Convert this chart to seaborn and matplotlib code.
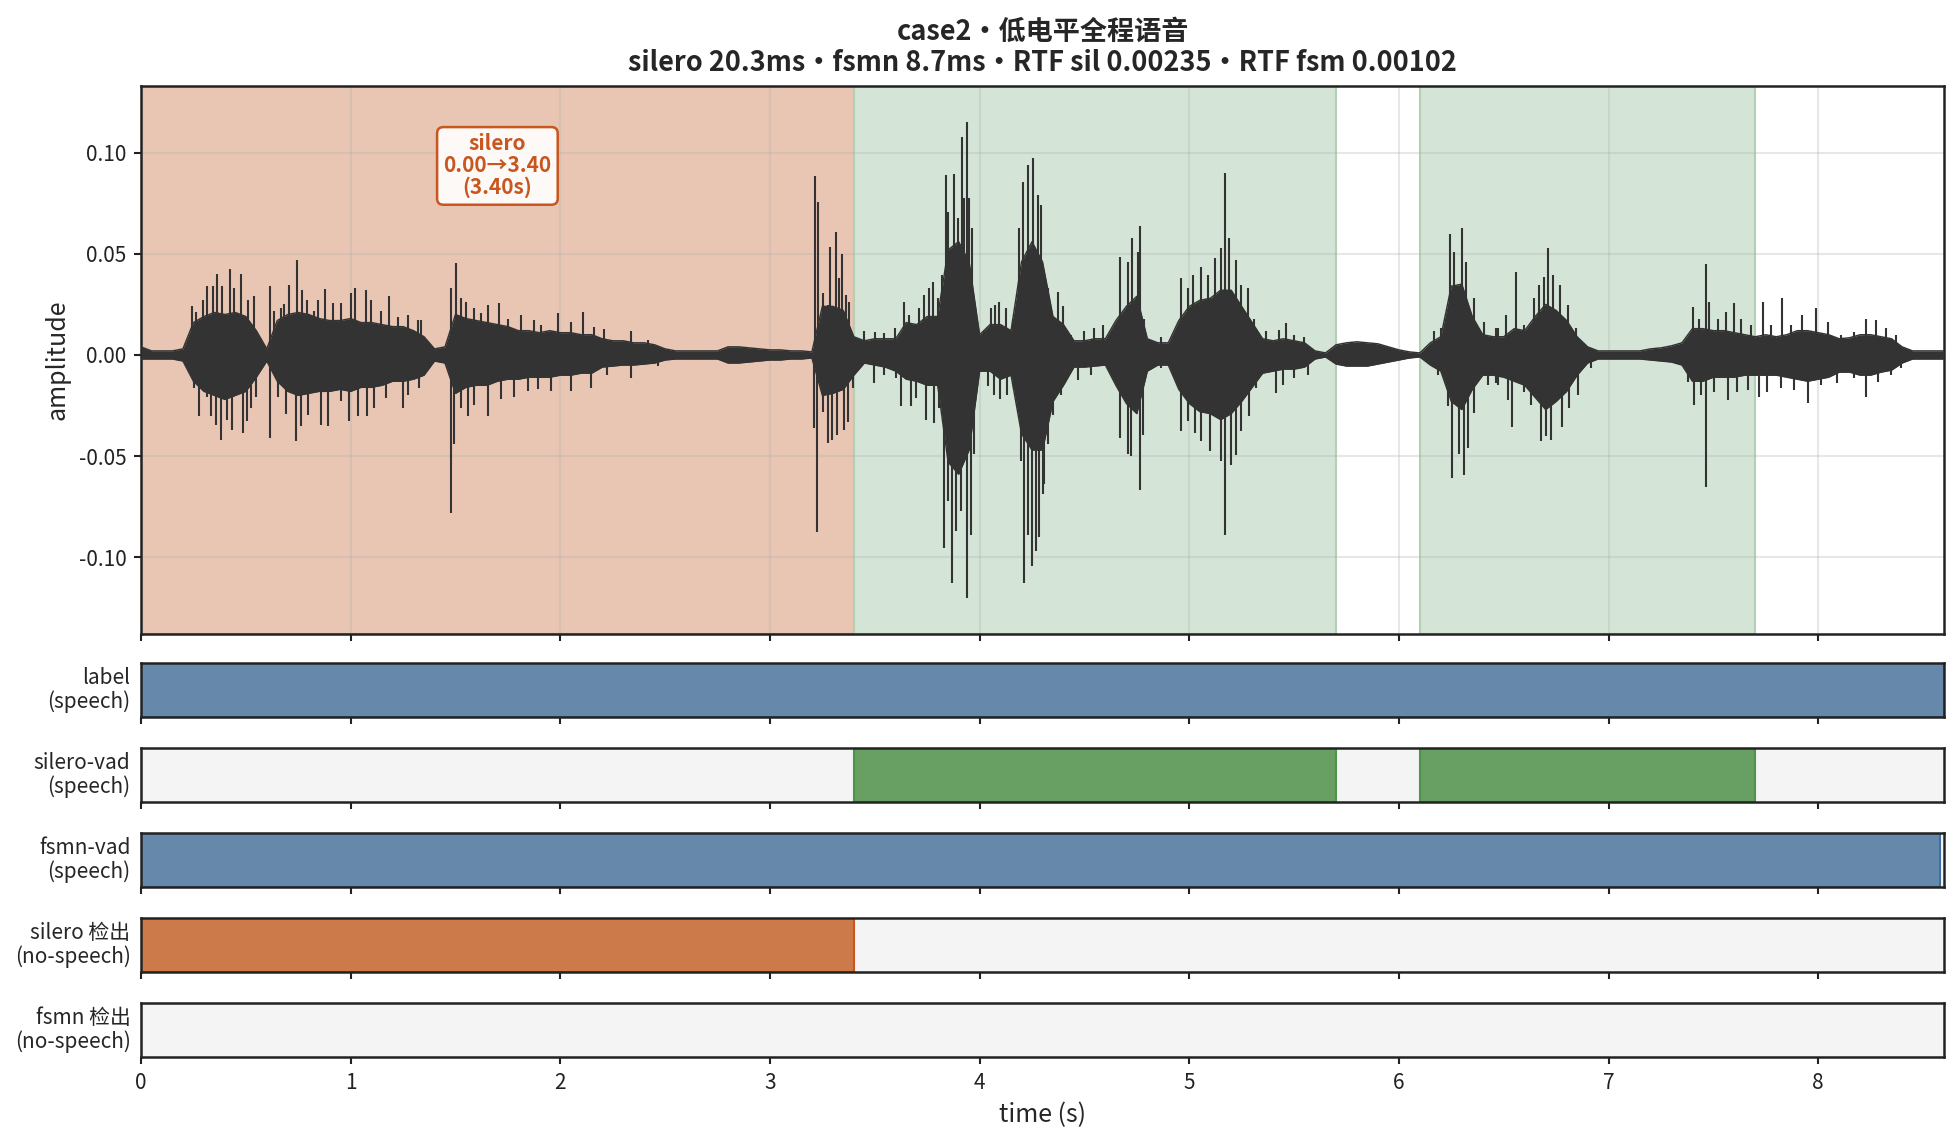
import numpy as np
import matplotlib
matplotlib.use("Agg")
import matplotlib.pyplot as plt
import matplotlib.transforms as mtransforms
from matplotlib.ticker import FormatStrFormatter
import seaborn as sns

# ---------------------------------------------------------------
# data
duration = 8.6
env_t = np.linspace(0.0, 8.6, 173)          # dense core of the waveform, every 50 ms
env_upper = [
    0.004, 0.002, 0.002, 0.002, 0.003, 0.016, 0.019, 0.021, 0.020, 0.021,
    0.019, 0.012, 0.003, 0.017, 0.020, 0.021, 0.020, 0.018, 0.017, 0.017,
    0.018, 0.016, 0.016, 0.015, 0.014, 0.014, 0.012, 0.009, 0.003, 0.004,
    0.020, 0.018, 0.017, 0.016, 0.015, 0.014, 0.012, 0.012, 0.011, 0.012,
    0.011, 0.011, 0.010, 0.010, 0.008, 0.007, 0.007, 0.006, 0.006, 0.005,
    0.003, 0.002, 0.002, 0.002, 0.002, 0.002, 0.004, 0.004, 0.0035, 0.003,
    0.0025, 0.0025, 0.002, 0.002, 0.0015, 0.024, 0.024, 0.022, 0.009, 0.007,
    0.008, 0.008, 0.008, 0.016, 0.015, 0.019, 0.019, 0.052, 0.056, 0.046,
    0.010, 0.015, 0.015, 0.012, 0.046, 0.056, 0.046, 0.019, 0.015, 0.007,
    0.007, 0.008, 0.008, 0.017, 0.024, 0.029, 0.008, 0.006, 0.006, 0.017,
    0.024, 0.027, 0.028, 0.032, 0.032, 0.024, 0.016, 0.008, 0.007, 0.008,
    0.007, 0.006, 0.002, 0.001, 0.005, 0.006, 0.0065, 0.006, 0.0055, 0.004,
    0.0025, 0.0015, 0.001, 0.006, 0.009, 0.034, 0.035, 0.019, 0.010, 0.009,
    0.009, 0.013, 0.012, 0.019, 0.025, 0.022, 0.017, 0.009, 0.004, 0.002,
    0.002, 0.002, 0.002, 0.002, 0.003, 0.0035, 0.0045, 0.006, 0.013, 0.013,
    0.012, 0.012, 0.011, 0.010, 0.009, 0.010, 0.009, 0.010, 0.012, 0.012,
    0.011, 0.010, 0.008, 0.0085, 0.010, 0.010, 0.009, 0.008, 0.004, 0.002,
    0.002, 0.002, 0.002,
]
env_lower = [
    -0.002, -0.002, -0.002, -0.002, -0.003, -0.013, -0.018, -0.020, -0.022, -0.020,
    -0.018, -0.011, -0.003, -0.013, -0.018, -0.020, -0.019, -0.018, -0.018, -0.017,
    -0.018, -0.016, -0.016, -0.015, -0.013, -0.013, -0.012, -0.010, -0.003, -0.004,
    -0.019, -0.016, -0.015, -0.015, -0.013, -0.012, -0.012, -0.011, -0.011, -0.011,
    -0.010, -0.010, -0.009, -0.009, -0.006, -0.0055, -0.005, -0.005, -0.0045, -0.004,
    -0.0025, -0.002, -0.002, -0.002, -0.002, -0.002, -0.004, -0.004, -0.0035, -0.003,
    -0.0025, -0.0025, -0.002, -0.002, -0.0015, -0.020, -0.019, -0.017, -0.010, -0.004,
    -0.005, -0.006, -0.008, -0.012, -0.013, -0.015, -0.015, -0.053, -0.059, -0.047,
    -0.008, -0.008, -0.012, -0.010, -0.039, -0.047, -0.047, -0.023, -0.015, -0.006,
    -0.006, -0.0055, -0.005, -0.015, -0.024, -0.029, -0.008, -0.005, -0.005, -0.017,
    -0.024, -0.028, -0.029, -0.032, -0.029, -0.023, -0.016, -0.009, -0.008, -0.007,
    -0.007, -0.006, -0.002, -0.001, -0.0045, -0.0055, -0.0055, -0.0055, -0.0045, -0.0035,
    -0.0025, -0.0015, -0.001, -0.005, -0.008, -0.023, -0.027, -0.017, -0.010, -0.010,
    -0.011, -0.013, -0.015, -0.021, -0.027, -0.023, -0.018, -0.010, -0.004, -0.002,
    -0.002, -0.002, -0.002, -0.002, -0.0025, -0.003, -0.0035, -0.005, -0.013, -0.013,
    -0.011, -0.011, -0.011, -0.010, -0.010, -0.010, -0.010, -0.011, -0.012, -0.013,
    -0.012, -0.011, -0.0085, -0.0085, -0.010, -0.010, -0.0085, -0.0075, -0.004, -0.002,
    -0.002, -0.002, -0.002,
]

# positive peaks sticking out of the core
up_t = [0.242, 0.262, 0.294, 0.315, 0.342, 0.362, 0.386, 0.423, 0.445, 0.477, 0.512, 0.537,
        0.615, 0.636, 0.668, 0.684, 0.707, 0.744, 0.769, 0.792, 0.827, 0.843, 0.876, 0.914,
        0.954, 1.0, 1.022, 1.075, 1.097, 1.145, 1.184, 1.224, 1.272, 1.32, 1.335,
        1.478, 1.502, 1.526, 1.55, 1.59, 1.62, 1.653, 1.709, 1.749, 1.812, 1.876, 1.908,
        1.987, 2.05, 2.107, 2.162, 2.21, 2.337, 2.42,
        3.214, 3.227, 3.254, 3.275, 3.287, 3.314, 3.33, 3.342, 3.362, 3.378,
        3.418, 3.45, 3.5, 3.545, 3.596, 3.617, 3.64, 3.664, 3.712, 3.736, 3.76, 3.776, 3.8,
        3.823, 3.839, 3.85, 3.879, 3.895, 3.914, 3.927, 3.938, 3.95, 3.966,
        4.022, 4.054, 4.073, 4.094, 4.125, 4.157, 4.189, 4.205, 4.229, 4.253, 4.277, 4.293,
        4.325, 4.372, 4.396, 4.436, 4.5, 4.547, 4.587, 4.67, 4.706, 4.725, 4.754, 4.765,
        4.786, 4.865, 4.96, 4.993, 5.016, 5.056, 5.088, 5.123, 5.151, 5.171, 5.188, 5.223,
        5.247, 5.279, 5.31, 5.366, 5.43, 5.462, 5.501, 5.549,
        6.169, 6.2, 6.245, 6.264, 6.3, 6.32, 6.357, 6.408, 6.463, 6.471, 6.511, 6.558,
        6.598, 6.642, 6.67, 6.693, 6.711, 6.733, 6.77, 6.805, 6.844, 6.884,
        7.377, 7.401, 7.433, 7.464, 7.48, 7.52, 7.56, 7.6, 7.631, 7.679,
        7.735, 7.774, 7.827, 7.87, 7.925, 7.989, 8.045, 8.108, 8.172, 8.227, 8.275,
        8.323, 8.371]
up_v = [0.024, 0.021, 0.027, 0.034, 0.034, 0.040, 0.034, 0.0425, 0.033, 0.040, 0.027, 0.029,
        0.034, 0.0215, 0.023, 0.025, 0.0345, 0.047, 0.032, 0.027, 0.0215, 0.027, 0.0327, 0.0256,
        0.0256, 0.0305, 0.033, 0.032, 0.027, 0.0215, 0.029, 0.019, 0.0198, 0.0174, 0.0174,
        0.033, 0.0457, 0.028, 0.026, 0.023, 0.0205, 0.0247, 0.0255, 0.018, 0.0197, 0.0173, 0.0148,
        0.0205, 0.0165, 0.0214, 0.014, 0.013, 0.0116, 0.0075,
        0.0886, 0.0758, 0.0305, 0.0248, 0.0536, 0.061, 0.038, 0.050, 0.0297, 0.0264,
        0.0075, 0.0116, 0.0113, 0.011, 0.0132, 0.009, 0.0264, 0.0198, 0.023, 0.0297, 0.033, 0.0363, 0.028,
        0.0396, 0.0889, 0.0708, 0.0897, 0.0675, 0.108, 0.0774, 0.115, 0.0774, 0.0626,
        0.0116, 0.023, 0.0247, 0.0264, 0.023, 0.018, 0.0626, 0.0857, 0.094, 0.0975, 0.0791, 0.074,
        0.033, 0.031, 0.024, 0.010, 0.0116, 0.0132, 0.015, 0.0486, 0.046, 0.0577, 0.051, 0.064,
        0.018, 0.009, 0.038, 0.033, 0.0396, 0.0437, 0.0396, 0.0478, 0.0527, 0.0898, 0.0577, 0.047,
        0.0347, 0.033, 0.018, 0.0116, 0.0124, 0.0157, 0.010, 0.009,
        0.0116, 0.0132, 0.060, 0.051, 0.063, 0.046, 0.028, 0.0165, 0.0132, 0.0132, 0.0197, 0.041,
        0.0148, 0.028, 0.0345, 0.0387, 0.0527, 0.0395, 0.0345, 0.0247, 0.0132, 0.0058,
        0.0082, 0.0239, 0.018, 0.045, 0.0263, 0.018, 0.0214, 0.0255, 0.018, 0.0148,
        0.026, 0.0148, 0.028, 0.0148, 0.0197, 0.023, 0.0165, 0.0099, 0.0115, 0.018, 0.0173,
        0.0132, 0.0099]

# negative peaks
dn_t = [0.254, 0.278, 0.313, 0.334, 0.356, 0.382, 0.41, 0.432, 0.485, 0.506, 0.525, 0.548,
        0.615, 0.652, 0.692, 0.739, 0.763, 0.795, 0.859, 0.89, 0.954, 0.99, 1.033, 1.078,
        1.113, 1.168, 1.248, 1.272, 1.327,
        1.478, 1.494, 1.526, 1.558, 1.59, 1.653, 1.717, 1.78, 1.844, 1.892, 1.955, 2.05, 2.146,
        2.225, 2.337, 2.464,
        3.211, 3.224, 3.251, 3.275, 3.294, 3.319, 3.351, 3.37, 3.394,
        3.418, 3.497, 3.545, 3.6, 3.624, 3.672, 3.696, 3.744, 3.784, 3.807,
        3.831, 3.847, 3.866, 3.887, 3.911, 3.939, 3.958, 3.971,
        4.038, 4.07, 4.098, 4.133, 4.165, 4.197, 4.213, 4.229, 4.248, 4.268, 4.284, 4.301,
        4.308, 4.325, 4.349, 4.388, 4.468, 4.531, 4.671, 4.706, 4.722, 4.765, 4.778, 4.865,
        4.96, 4.993, 5.027, 5.056, 5.1, 5.151, 5.171, 5.199, 5.223, 5.247, 5.287, 5.318,
        5.414, 5.446, 5.501, 5.565,
        6.185, 6.233, 6.252, 6.288, 6.309, 6.328, 6.36, 6.423, 6.463, 6.471, 6.519, 6.538,
        6.598, 6.63, 6.677, 6.701, 6.725, 6.776, 6.813, 6.852, 6.916,
        7.377, 7.406, 7.44, 7.464, 7.504, 7.571, 7.615, 7.663,
        7.719, 7.758, 7.822, 7.886, 7.953, 8.013, 8.092, 8.172, 8.227, 8.283, 8.347, 8.394]
dn_v = [-0.0164, -0.030, -0.021, -0.030, -0.0345, -0.042, -0.032, -0.037, -0.0386, -0.0328,
        -0.026, -0.021,
        -0.041, -0.021, -0.029, -0.0427, -0.0353, -0.0295, -0.0345, -0.0353, -0.023, -0.0328,
        -0.030, -0.030, -0.0262, -0.0213, -0.0262, -0.0197, -0.0164,
        -0.078, -0.044, -0.026, -0.030, -0.025, -0.030, -0.022, -0.021, -0.018, -0.017,
        -0.018, -0.0178, -0.0164, -0.0098, -0.0114, -0.0057,
        -0.036, -0.0875, -0.028, -0.0435, -0.042, -0.0394, -0.037, -0.033, -0.0164,
        -0.0049, -0.0139, -0.0098, -0.0114, -0.0254, -0.0254, -0.0213, -0.032, -0.0336, -0.026,
        -0.0954, -0.0723, -0.113, -0.0871, -0.0773, -0.120, -0.0888, -0.049,
        -0.0156, -0.0197, -0.022, -0.0197, -0.0164, -0.0526, -0.113, -0.0888, -0.1044, -0.097,
        -0.090, -0.069,
        -0.064, -0.044, -0.0296, -0.0197, -0.0123, -0.0098, -0.041, -0.049, -0.050, -0.0666,
        -0.0394, -0.0065,
        -0.0378, -0.0328, -0.0386, -0.0427, -0.0476, -0.0526, -0.089, -0.0542, -0.0493,
        -0.0378, -0.0304, -0.0164,
        -0.0189, -0.0148, -0.0115, -0.0098,
        -0.0098, -0.0254, -0.061, -0.049, -0.0592, -0.046, -0.0287, -0.0148, -0.0139, -0.0148,
        -0.0222, -0.0354,
        -0.0181, -0.0247, -0.0428, -0.0403, -0.042, -0.0354, -0.0263, -0.0197, -0.0066,
        -0.0132, -0.0247, -0.0197, -0.0655, -0.0181, -0.0222, -0.0181, -0.0173,
        -0.0206, -0.0181, -0.0165, -0.0173, -0.0239, -0.0148, -0.014, -0.0115, -0.0206,
        -0.0132, -0.0099, -0.0066]

# segments (seconds)
label_speech = [(0.0, 8.6)]
silero_speech = [(3.40, 5.70), (6.10, 7.70)]
fsmn_speech = [(0.0, 8.58)]
silero_nospeech = [(0.00, 3.40)]
fsmn_nospeech = []

title = ("case2・低电平全程语音\n"
         "silero 20.3ms・fsmn 8.7ms・RTF sil 0.00235・RTF fsm 0.00102")

# ---------------------------------------------------------------
sns.set_theme(style="ticks")
plt.rcParams['font.family'] = ['Noto Sans CJK SC', 'DejaVu Sans']
plt.rcParams['axes.unicode_minus'] = False
plt.rcParams['axes.edgecolor'] = '#222222'
plt.rcParams['axes.linewidth'] = 1.2
plt.rcParams['xtick.color'] = '#222222'
plt.rcParams['ytick.color'] = '#222222'
plt.rcParams['xtick.major.size'] = 3.5
plt.rcParams['ytick.major.size'] = 3.5
plt.rcParams['xtick.major.width'] = 1.0
plt.rcParams['ytick.major.width'] = 1.0
plt.rcParams['xtick.labelsize'] = 10
plt.rcParams['ytick.labelsize'] = 10

W, H = 1958, 1142
fig = plt.figure(figsize=(W / 150, H / 150), dpi=150)


def place(top, bottom):
    return [141 / W, 1 - bottom / H, (1944 - 141) / W, (bottom - top) / H]


wave_color = '#333333'
orange = '#c8561e'

# ---- waveform panel
ax = fig.add_axes(place(86, 634))
for a, b in silero_nospeech:
    ax.axvspan(a, b, facecolor='#e9c6b4', edgecolor='#cf9a78', lw=1, zorder=0)
for a, b in silero_speech:
    ax.axvspan(a, b, facecolor='#d4e4d6', edgecolor='#b3cfb4', lw=1, zorder=0)

ax.fill_between(env_t, env_lower, env_upper, color=wave_color, lw=0, zorder=3)
sns.lineplot(x=env_t, y=env_upper, ax=ax, color=wave_color, lw=0.7, zorder=3)
sns.lineplot(x=env_t, y=env_lower, ax=ax, color=wave_color, lw=0.7, zorder=3)
ax.vlines(up_t, 0, up_v, color=wave_color, lw=1.0, zorder=3)
ax.vlines(dn_t, dn_v, 0, color=wave_color, lw=1.0, zorder=3)

ax.grid(True, color='#b0b0b0', alpha=0.3, lw=1)
ax.set_axisbelow(True)
ax.set_xlim(0, duration)
ax.set_ylim(-0.138, 0.133)
ax.set_xticks(range(9))
ax.set_yticks([-0.10, -0.05, 0.0, 0.05, 0.10])
ax.yaxis.set_major_formatter(FormatStrFormatter('%.2f'))
ax.tick_params(labelbottom=False)
ax.set_xlabel('')
ax.set_ylabel('amplitude', fontsize=12)
ax.set_title(title, fontsize=13, fontweight='bold', pad=7, linespacing=1.15)

trans = mtransforms.blended_transform_factory(ax.transData, ax.transAxes)
for a, b in silero_nospeech:
    ax.text((a + b) / 2, 0.914, f"silero\n{a:.2f}→{b:.2f}\n({b - a:.2f}s)",
            transform=trans, ha='center', va='top', fontsize=10,
            fontweight='bold', color=orange, linespacing=1.05, zorder=6,
            bbox=dict(boxstyle='round,pad=0.3', fc=(1, 1, 1, 0.9), ec=orange, lw=1.2))

# ---- strips
strips = [
    ("label\n(speech)", label_speech, '#6689ab', '#3f6fa0'),
    ("silero-vad\n(speech)", silero_speech, '#689f63', '#4e944a'),
    ("fsmn-vad\n(speech)", fsmn_speech, '#6689ab', '#3f6fa0'),
    ("silero 检出\n(no-speech)", silero_nospeech, '#cd7a4b', orange),
    ("fsmn 检出\n(no-speech)", fsmn_nospeech, '#cd7a4b', orange),
]
tops = [663, 748, 833, 918, 1003]
for i, ((name, segs, fc, ec), top) in enumerate(zip(strips, tops)):
    sax = fig.add_axes(place(top, top + 54))
    sax.set_facecolor('#f4f4f4')
    if segs:
        sax.broken_barh([(a, b - a) for a, b in segs], (0, 1),
                        facecolors=fc, edgecolors=ec, lw=1)
    sax.set_xlim(0, duration)
    sax.set_ylim(0, 1)
    sax.set_yticks([])
    sax.set_xticks(range(9))
    sax.set_ylabel(name, rotation=0, ha='right', va='center', fontsize=10,
                   labelpad=5, linespacing=1.05)
    if i < len(strips) - 1:
        sax.tick_params(labelbottom=False)
    else:
        sax.set_xlabel('time (s)', fontsize=12)

fig.savefig('out.png', dpi=150)
